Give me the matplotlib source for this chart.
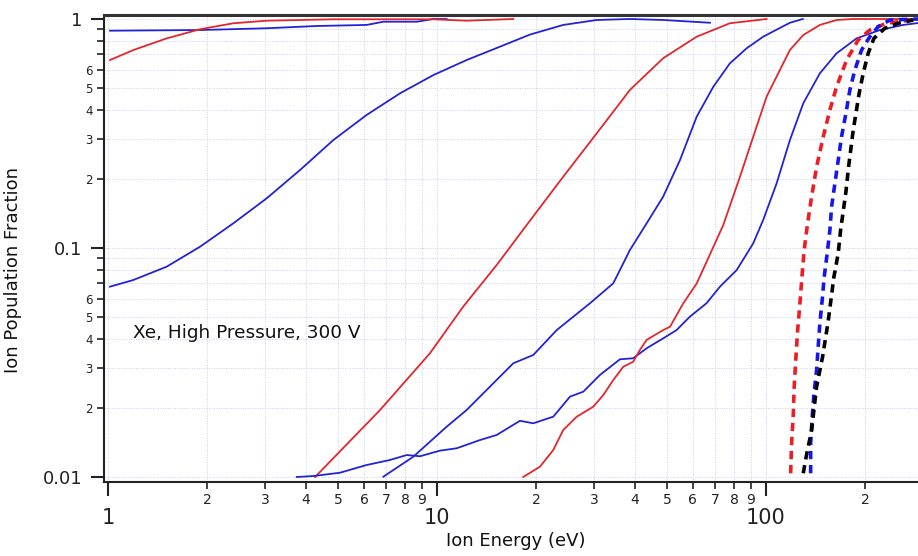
import matplotlib
matplotlib.use("Agg")
import matplotlib.pyplot as plt
from matplotlib.ticker import FixedLocator, FixedFormatter

plt.rcParams['font.family'] = ['DejaVu Sans']

# ---------------- data (Ion Energy eV, Ion Population Fraction) ----------------
blue_flat_x = [1.014, 1.904, 3.036, 4.31, 6.11, 6.87, 8.68, 9.75, 10.7]
blue_flat_y = [0.889, 0.895, 0.911, 0.932, 0.942, 0.973, 0.973, 1.0, 1.0]

red_top_x = [1.014, 1.194, 1.508, 1.904, 2.404, 3.036, 4.84, 9.75, 12.31, 17.06]
red_top_y = [0.662, 0.732, 0.823, 0.902, 0.958, 0.983, 0.997, 0.997, 0.983, 1.0]

blue_s_x = [1.014, 1.194, 1.508, 1.904, 2.404, 3.036, 3.833, 4.84, 6.11, 7.72, 9.75,
            12.31, 15.54, 19.17, 24.2, 30.6, 38.6, 48.7, 67.6]
blue_s_y = [0.0678, 0.0725, 0.0829, 0.1013, 0.1282, 0.1648, 0.219, 0.296, 0.381, 0.4736,
            0.569, 0.662, 0.757, 0.855, 0.942, 0.99, 1.0, 0.99, 0.963]

red_diag_x = [4.26, 6.71, 9.52, 12.02, 15.19, 19.17, 24.2, 30.6, 38.6, 48.7, 61.6, 77.7, 100.5]
red_diag_y = [0.01, 0.0196, 0.0347, 0.0555, 0.0843, 0.1316, 0.2048, 0.3168, 0.49, 0.674,
              0.837, 0.958, 1.0]

blue_mid_x = [6.87, 8.47, 10.70, 12.31, 14.83, 17.06, 19.62, 23.12, 25.96, 29.2, 34.35,
              38.6, 43.4, 48.7, 54.8, 61.6, 69.2, 77.7, 87.4, 98.1, 118.3, 129.5]
blue_mid_y = [0.01003, 0.01226, 0.01658, 0.01962, 0.02565, 0.03137, 0.0341, 0.0438, 0.0501,
              0.0574, 0.0701, 0.098, 0.1282, 0.1675, 0.242, 0.3745, 0.506, 0.64, 0.745,
              0.837, 0.963, 1.0]

blue_low_x = [3.746, 4.21, 5.07, 6.11, 7.20, 8.09, 8.88, 10.2, 11.48, 13.51, 15.19, 17.88,
              19.62, 22.57, 25.37, 27.85, 31.29, 36.0, 39.5, 43.4, 48.7, 53.5, 58.7, 66.0,
              72.5, 81.5, 91.5, 98.1, 107.8, 118.3, 129.9, 145.9, 164.0, 188.7, 222.0,
              261.4, 290.0]
blue_low_y = [0.01, 0.0101, 0.01044, 0.01128, 0.01187, 0.01247, 0.01232, 0.01303, 0.01335,
              0.0145, 0.01526, 0.0176, 0.01716, 0.01834, 0.02243, 0.02358, 0.0279, 0.03266,
              0.033, 0.0365, 0.0403, 0.0438, 0.0501, 0.0574, 0.0678, 0.0801, 0.1048,
              0.1325, 0.1916, 0.296, 0.4285, 0.579, 0.708, 0.823, 0.895, 0.942, 0.96]

red_low_x = [18.29, 20.56, 22.57, 24.2, 26.6, 29.87, 32.03, 34.35, 36.85, 39.5, 41.4, 43.4,
             48.7, 51.1, 56.1, 61.6, 69.2, 74.2, 83.4, 91.5, 100.5, 110.3, 118.3, 129.9,
             145.9, 164.0, 183.8, 290.0]
red_low_y = [0.01, 0.01109, 0.01312, 0.01604, 0.01834, 0.02028, 0.0228, 0.0265, 0.0303,
             0.03188, 0.0359, 0.0397, 0.0438, 0.0453, 0.0574, 0.0700, 0.1010, 0.1260,
             0.2048, 0.306, 0.458, 0.599, 0.732, 0.851, 0.942, 0.99, 1.0, 1.0]

red_dash_x = [118.9, 119.7, 121.1, 121.9, 123.4, 124.9, 126.9, 128.7, 130.7, 133.9, 137.7,
              142.6, 149.4, 156.5, 164.0, 175.9, 190.8, 207.0, 232.7, 290.0]
red_dash_y = [0.01038, 0.01403, 0.01866, 0.0248, 0.0335, 0.0438, 0.0574, 0.0749, 0.098,
              0.1282, 0.1675, 0.2265, 0.306, 0.401, 0.506, 0.662, 0.81, 0.895, 0.958, 1.0]

blue_dash_x = [136.8, 136.8, 138.3, 140.0, 142.6, 144.2, 145.9, 148.3, 150.4, 153.6, 156.5,
               158.4, 162.1, 165.9, 169.8, 175.1, 180.0, 186.4, 195.4, 207.0, 219.5, 238.2,
               290.0]
blue_dash_y = [0.01038, 0.01403, 0.01834, 0.0232, 0.0293, 0.0371, 0.0469, 0.0593, 0.0749,
               0.0948, 0.1199, 0.1515, 0.1916, 0.242, 0.306, 0.3875, 0.49, 0.599, 0.732,
               0.837, 0.926, 0.99, 1.0]

black_dash_x = [129.9, 132.3, 137.7, 142.6, 148.7, 154.6, 161.0, 165.9, 168.7, 175.1, 178.4,
                184.3, 192.1, 197.6, 204.6, 213.0, 230.0, 252.5, 280.4]
black_dash_y = [0.01038, 0.01207, 0.01604, 0.0248, 0.0335, 0.0477, 0.0749, 0.0948, 0.1199,
                0.1762, 0.2265, 0.3275, 0.4736, 0.579, 0.708, 0.823, 0.911, 0.958, 0.99]

x_major = [1, 10, 100]
x_major_labels = ["1", "10", "100"]
x_minor = [2, 3, 4, 5, 6, 7, 8, 9, 20, 30, 40, 50, 60, 70, 80, 90, 200]
x_minor_labels = ["2", "3", "4", "5", "6", "7", "8", "9",
                  "2", "3", "4", "5", "6", "7", "8", "9", "2"]
y_major = [0.01, 0.1, 1]
y_major_labels = ["0.01", "0.1", "1"]
y_minor = [0.02, 0.03, 0.04, 0.05, 0.06, 0.07, 0.08, 0.09,
           0.2, 0.3, 0.4, 0.5, 0.6, 0.7, 0.8, 0.9]
y_minor_labels = ["2", "3", "4", "5", "6", "", "", "",
                  "2", "3", "4", "5", "6", "", "", ""]

annotation = "Xe, High Pressure, 300 V"
xlabel = "Ion Energy (eV)"
ylabel = "Ion Population Fraction"

# ---------------- figure ----------------
W, H = 918, 556
fig = plt.figure(figsize=(W / 100, H / 100), dpi=100)
left, right, top, bottom = 104, 918, 15, 482
ax = fig.add_axes([left / W, 1 - bottom / H, (right - left) / W, (bottom - top) / H])
ax.set_xscale('log')
ax.set_yscale('log')
ax.set_xlim(0.972, 290)
ax.set_ylim(0.00951, 1.041)

RED = '#e3262b'
BLUE = '#2323d6'
lw = 1.3
ax.plot(blue_flat_x, blue_flat_y, color=BLUE, lw=lw, zorder=3)
ax.plot(red_top_x, red_top_y, color=RED, lw=lw, zorder=3)
ax.plot(blue_s_x, blue_s_y, color=BLUE, lw=lw, zorder=3)
ax.plot(red_diag_x, red_diag_y, color=RED, lw=lw, zorder=3)
ax.plot(blue_mid_x, blue_mid_y, color=BLUE, lw=lw, zorder=3)
ax.plot(blue_low_x, blue_low_y, color=BLUE, lw=lw, zorder=3)
ax.plot(red_low_x, red_low_y, color=RED, lw=lw, zorder=3)
dash = (0, (2.3, 1.6))
ax.plot(red_dash_x, red_dash_y, color='#ee1c24', lw=2.6, ls=dash, zorder=4)
ax.plot(blue_dash_x, blue_dash_y, color='#1515ee', lw=2.6, ls=dash, zorder=4)
ax.plot(black_dash_x, black_dash_y, color='black', lw=2.6, ls=dash, zorder=4)

# ticks
ax.xaxis.set_major_locator(FixedLocator(x_major))
ax.xaxis.set_major_formatter(FixedFormatter(x_major_labels))
ax.xaxis.set_minor_locator(FixedLocator(x_minor))
ax.xaxis.set_minor_formatter(FixedFormatter(x_minor_labels))
ax.yaxis.set_major_locator(FixedLocator(y_major))
ax.yaxis.set_major_formatter(FixedFormatter(y_major_labels))
ax.yaxis.set_minor_locator(FixedLocator(y_minor))
ax.yaxis.set_minor_formatter(FixedFormatter(y_minor_labels))

tc = '#222222'
ax.tick_params(axis='x', which='major', direction='out', length=10, width=1.5,
               pad=9, labelsize=15, colors=tc)
ax.tick_params(axis='x', which='minor', direction='out', length=5, width=1.2,
               pad=3, labelsize=10, colors=tc)
ax.tick_params(axis='y', which='major', direction='out', length=9.5, width=1.5,
               pad=6, labelsize=13, colors=tc)
ax.tick_params(axis='y', which='minor', direction='out', length=5, width=1.2,
               pad=3, labelsize=8.5, colors=tc)

# grid
ax.grid(True, which='both', color='#cdcdf0', lw=0.7, ls=(0, (1, 1.5)), zorder=0)

# spines
for s in ['left', 'bottom']:
    ax.spines[s].set_linewidth(1.5)
    ax.spines[s].set_color(tc)
ax.spines['top'].set_linewidth(2.2)
ax.spines['top'].set_color('#333333')
ax.spines['right'].set_visible(False)

fig.text(133 / W, 1 - 333 / H, annotation, fontsize=13.3, va='center', ha='left',
         color='#111111')
fig.text(516 / W, 1 - 541 / H, xlabel, fontsize=13, ha='center', va='center',
         color='#111111')
fig.text(13 / W, 1 - 270 / H, ylabel, fontsize=13, ha='center', va='center',
         rotation=90, color='#111111')

fig.savefig('out.png', dpi=100)
